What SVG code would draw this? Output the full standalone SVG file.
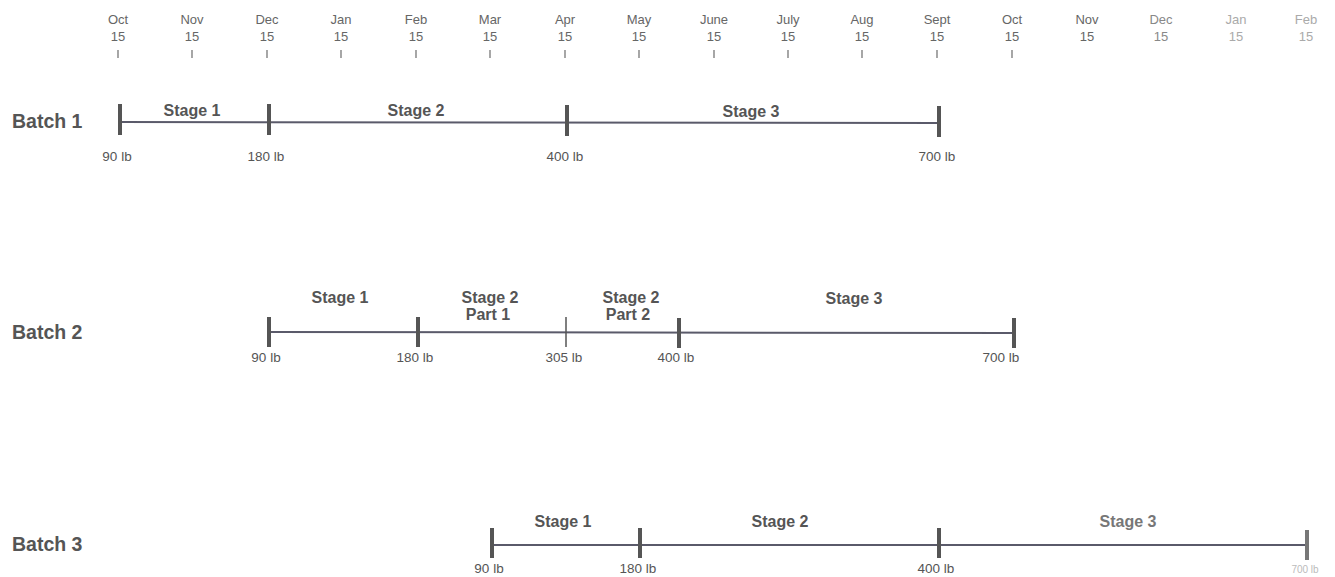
<svg xmlns="http://www.w3.org/2000/svg" width="1335" height="577" viewBox="0 0 1335 577">
<style>
.m{font-family:"Liberation Sans",Arial,sans-serif;font-size:13px;fill:#666;text-anchor:middle}
.mt{stroke:#777;stroke-width:1.3}
.b{font-family:"Liberation Sans",Arial,sans-serif;font-size:19.5px;font-weight:bold;fill:#555}
.s{font-family:"Liberation Sans",Arial,sans-serif;font-size:16px;font-weight:bold;fill:#555;text-anchor:middle}
.w{font-family:"Liberation Sans",Arial,sans-serif;font-size:13.5px;fill:#555;text-anchor:middle}
.ln{stroke:#5a5a6a;stroke-width:2}
.tk{stroke:#555;stroke-width:4}
.tn{stroke:#555;stroke-width:1.5}
</style>
<rect width="1335" height="577" fill="#fff"/>
<g id="axis">
<text class="m" x="118" y="24">Oct</text><text class="m" x="118" y="41">15</text>
<text class="m" x="192" y="24">Nov</text><text class="m" x="192" y="41">15</text>
<text class="m" x="267" y="24">Dec</text><text class="m" x="267" y="41">15</text>
<text class="m" x="341" y="24">Jan</text><text class="m" x="341" y="41">15</text>
<text class="m" x="416" y="24">Feb</text><text class="m" x="416" y="41">15</text>
<text class="m" x="490" y="24">Mar</text><text class="m" x="490" y="41">15</text>
<text class="m" x="565" y="24">Apr</text><text class="m" x="565" y="41">15</text>
<text class="m" x="639" y="24">May</text><text class="m" x="639" y="41">15</text>
<text class="m" x="714" y="24">June</text><text class="m" x="714" y="41">15</text>
<text class="m" x="788" y="24">July</text><text class="m" x="788" y="41">15</text>
<text class="m" x="862" y="24">Aug</text><text class="m" x="862" y="41">15</text>
<text class="m" x="937" y="24">Sept</text><text class="m" x="937" y="41">15</text>
<text class="m" x="1012" y="24">Oct</text><text class="m" x="1012" y="41">15</text>
<text class="m" x="1087" y="24">Nov</text><text class="m" x="1087" y="41">15</text>
<text class="m" x="1161" y="24" style="fill:#888">Dec</text><text class="m" x="1161" y="41" style="fill:#888">15</text>
<text class="m" x="1236" y="24" style="fill:#aaa">Jan</text><text class="m" x="1236" y="41" style="fill:#aaa">15</text>
<text class="m" x="1306" y="24" style="fill:#aaa">Feb</text><text class="m" x="1306" y="41" style="fill:#aaa">15</text>
<g class="mt">
<line x1="118" y1="50" x2="118" y2="58"/><line x1="192" y1="50" x2="192" y2="58"/><line x1="267" y1="50" x2="267" y2="58"/>
<line x1="341" y1="50" x2="341" y2="58"/><line x1="416" y1="50" x2="416" y2="58"/><line x1="490" y1="50" x2="490" y2="58"/>
<line x1="565" y1="50" x2="565" y2="58"/><line x1="639" y1="50" x2="639" y2="58"/><line x1="714" y1="50" x2="714" y2="58"/>
<line x1="788" y1="50" x2="788" y2="58"/><line x1="862" y1="50" x2="862" y2="58"/><line x1="937" y1="50" x2="937" y2="58"/>
<line x1="1012" y1="50" x2="1012" y2="58"/>
</g>
</g>
<g id="batch1">
<text class="b" x="12" y="128">Batch 1</text>
<line class="ln" x1="120" y1="122" x2="939" y2="123"/>
<line class="tk" x1="120" y1="104" x2="120" y2="135"/>
<line class="tk" x1="269" y1="104" x2="269" y2="135"/>
<line class="tk" x1="567" y1="105" x2="567" y2="136"/>
<line class="tk" x1="939" y1="106" x2="939" y2="137"/>
<text class="s" x="192" y="116">Stage 1</text>
<text class="s" x="416" y="116">Stage 2</text>
<text class="s" x="751" y="117">Stage 3</text>
<text class="w" x="117" y="161">90 lb</text>
<text class="w" x="266" y="161">180 lb</text>
<text class="w" x="565" y="161">400 lb</text>
<text class="w" x="937" y="161">700 lb</text>
</g>
<g id="batch2">
<text class="b" x="12" y="339">Batch 2</text>
<line class="ln" x1="269" y1="332" x2="1014" y2="333"/>
<line class="tk" x1="269" y1="317" x2="269" y2="347"/>
<line class="tk" x1="418" y1="317" x2="418" y2="347"/>
<line class="tn" x1="566" y1="317" x2="566" y2="347"/>
<line class="tk" x1="679" y1="318" x2="679" y2="348"/>
<line class="tk" x1="1014" y1="318" x2="1014" y2="348"/>
<text class="s" x="340" y="303">Stage 1</text>
<text class="s" x="490" y="303">Stage 2</text>
<text class="s" x="488" y="320">Part 1</text>
<text class="s" x="631" y="303">Stage 2</text>
<text class="s" x="628" y="320">Part 2</text>
<text class="s" x="854" y="304">Stage 3</text>
<text class="w" x="266" y="362">90 lb</text>
<text class="w" x="415" y="362">180 lb</text>
<text class="w" x="564" y="362">305 lb</text>
<text class="w" x="676" y="362">400 lb</text>
<text class="w" x="1001" y="362">700 lb</text>
</g>
<g id="batch3">
<text class="b" x="12" y="551">Batch 3</text>
<line class="ln" x1="492" y1="545" x2="1307" y2="545"/>
<line class="tk" x1="492" y1="528" x2="492" y2="558"/>
<line class="tk" x1="640" y1="528" x2="640" y2="558"/>
<line class="tk" x1="939" y1="528" x2="939" y2="558"/>
<line class="tk" x1="1307" y1="530" x2="1307" y2="560" style="stroke:#777"/>
<text class="s" x="563" y="527">Stage 1</text>
<text class="s" x="780" y="527">Stage 2</text>
<text class="s" x="1128" y="527" style="fill:#777">Stage 3</text>
<text class="w" x="489" y="573">90 lb</text>
<text class="w" x="638" y="573">180 lb</text>
<text class="w" x="936" y="573">400 lb</text>
<text class="w" x="1305" y="573" style="fill:#bbb;font-size:10px">700 lb</text>
</g>
</svg>
